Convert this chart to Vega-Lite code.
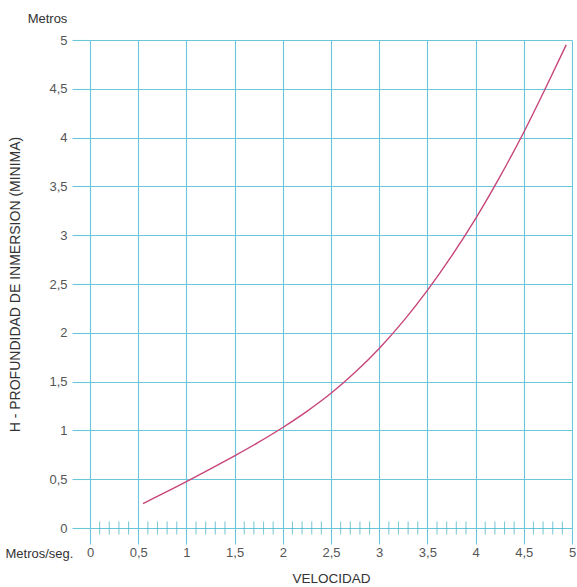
{
  "$schema": "https://vega.github.io/schema/vega-lite/v6.json",
  "autosize": "none",
  "width": 482,
  "height": 488,
  "padding": {"left": 90, "top": 40, "right": 5, "bottom": 59},
  "background": "white",
  "config": {
    "font": "Liberation Sans",
    "view": {"stroke": null},
    "axis": {"titleFontWeight": "normal", "titleColor": "#333", "labelColor": "#555"}
  },
  "datasets": {
    "curve": [
      {"v": 0.55, "h": 0.25},
      {"v": 0.75, "h": 0.35},
      {"v": 1.0, "h": 0.475},
      {"v": 1.25, "h": 0.605},
      {"v": 1.5, "h": 0.74},
      {"v": 1.75, "h": 0.88},
      {"v": 2.0, "h": 1.03},
      {"v": 2.25, "h": 1.195},
      {"v": 2.5, "h": 1.38},
      {"v": 2.75, "h": 1.595},
      {"v": 3.0, "h": 1.84},
      {"v": 3.25, "h": 2.12},
      {"v": 3.5, "h": 2.435},
      {"v": 3.75, "h": 2.785},
      {"v": 4.0, "h": 3.17},
      {"v": 4.25, "h": 3.595},
      {"v": 4.5, "h": 4.055},
      {"v": 4.72, "h": 4.495},
      {"v": 4.94, "h": 4.95}
    ],
    "minor": [
      {"m": 0.1}, {"m": 0.2}, {"m": 0.3}, {"m": 0.4},
      {"m": 0.6}, {"m": 0.7}, {"m": 0.8}, {"m": 0.9},
      {"m": 1.1}, {"m": 1.2}, {"m": 1.3}, {"m": 1.4},
      {"m": 1.6}, {"m": 1.7}, {"m": 1.8}, {"m": 1.9},
      {"m": 2.1}, {"m": 2.2}, {"m": 2.3}, {"m": 2.4},
      {"m": 2.6}, {"m": 2.7}, {"m": 2.8}, {"m": 2.9},
      {"m": 3.1}, {"m": 3.2}, {"m": 3.3}, {"m": 3.4},
      {"m": 3.6}, {"m": 3.7}, {"m": 3.8}, {"m": 3.9},
      {"m": 4.1}, {"m": 4.2}, {"m": 4.3}, {"m": 4.4},
      {"m": 4.6}, {"m": 4.7}, {"m": 4.8}, {"m": 4.9}
    ]
  },
  "layer": [
    {
      "data": {"name": "curve"},
      "mark": {"type": "line", "color": "#c7457a", "strokeWidth": 1.4, "interpolate": "monotone"},
      "encoding": {
        "x": {
          "field": "v", "type": "quantitative",
          "scale": {"domain": [0, 5], "nice": false, "zero": false},
          "axis": {
            "values": [0, 0.5, 1, 1.5, 2, 2.5, 3, 3.5, 4, 4.5, 5],
            "labelExpr": "replace(toString(datum.value), '.', ',')",
            "grid": true, "gridColor": "#6cc6da", "gridWidth": 1.1, "gridOpacity": 1,
            "domain": false,
            "tickSize": 16, "tickColor": "#6cc6da", "tickWidth": 1.1,
            "labelPadding": 2, "labelFontSize": 13, "labelFlush": false,
            "title": "VELOCIDAD", "titleFontSize": 13.5, "titlePadding": 12
          }
        },
        "y": {
          "field": "h", "type": "quantitative",
          "scale": {"domain": [0, 5], "nice": false},
          "axis": {
            "values": [0, 0.5, 1, 1.5, 2, 2.5, 3, 3.5, 4, 4.5, 5],
            "labelExpr": "replace(toString(datum.value), '.', ',')",
            "grid": true, "gridColor": "#6cc6da", "gridWidth": 1.1, "gridOpacity": 1,
            "domain": false,
            "tickSize": 18, "tickColor": "#6cc6da", "tickWidth": 1.1,
            "labelPadding": 5, "labelFontSize": 13, "labelFlush": false,
            "title": "H - PROFUNDIDAD DE INMERSION (MINIMA)", "titleFontSize": 14,
            "titleX": -68, "titleBaseline": "bottom"
          }
        }
      }
    },
    {
      "data": {"name": "minor"},
      "mark": {"type": "tick", "orient": "vertical", "color": "#4cb3c9", "size": 13, "thickness": 1.1},
      "encoding": {
        "x": {
          "field": "m", "type": "quantitative",
          "axis": {
            "orient": "bottom", "labels": false, "ticks": false, "grid": false, "domain": false,
            "title": "Metros/seg.", "titleFontSize": 13, "titleColor": "#333",
            "titleAlign": "left", "titleBaseline": "alphabetic", "titleX": -85, "titleY": 29, "titleAngle": 0
          }
        },
        "y": {
          "datum": 0, "type": "quantitative",
          "axis": {
            "orient": "left", "labels": false, "ticks": false, "grid": false, "domain": false,
            "title": "Metros", "titleFontSize": 13, "titleColor": "#333",
            "titleAlign": "center", "titleBaseline": "alphabetic", "titleAngle": 0, "titleX": -43, "titleY": -18
          }
        }
      }
    }
  ],
  "resolve": {"axis": {"x": "independent", "y": "independent"}}
}
